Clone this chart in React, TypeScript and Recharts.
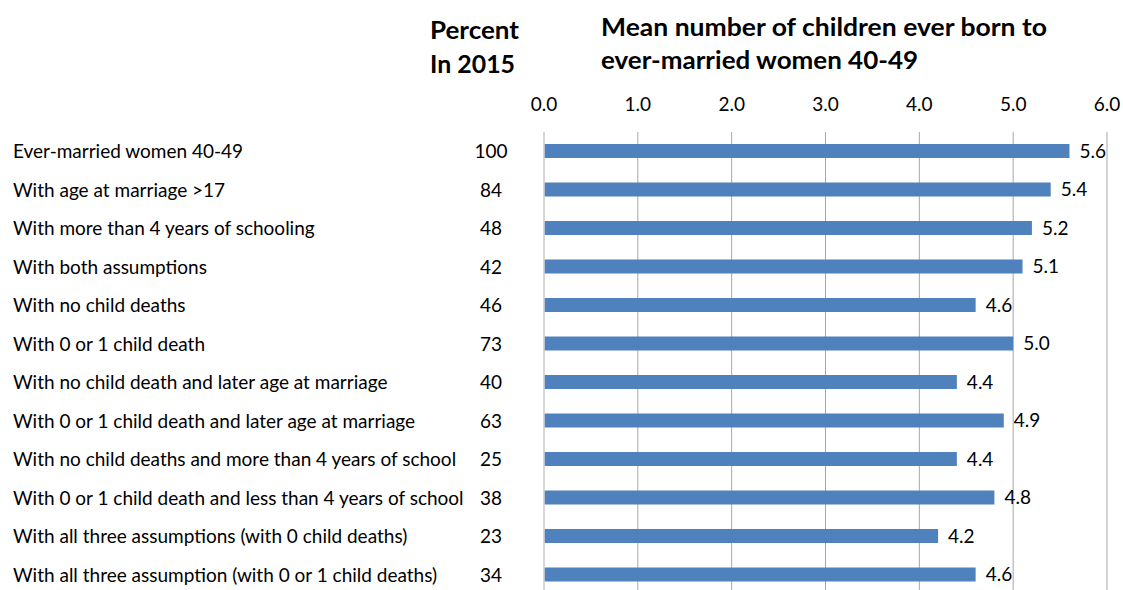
import { BarChart, Bar, XAxis, YAxis, CartesianGrid, LabelList, ReferenceLine } from 'recharts'

const categories = [
  'Ever-married women 40-49',
  'With age at marriage >17',
  'With more than 4 years of schooling',
  'With both assumptions',
  'With no child deaths',
  'With 0 or 1 child death',
  'With no child death and later age at marriage',
  'With 0 or 1 child death and later age at marriage',
  'With no child deaths and more than 4 years of school',
  'With 0 or 1 child death and less than 4 years of school',
  'With all three assumptions (with 0 child deaths)',
  'With all three assumption (with 0 or 1 child deaths)',
]
const percents = [100, 84, 48, 42, 46, 73, 40, 63, 25, 38, 23, 34]
const meanChildren = [5.6, 5.4, 5.2, 5.1, 4.6, 5.0, 4.4, 4.9, 4.4, 4.8, 4.2, 4.6]
const xTicks = [0, 1, 2, 3, 4, 5, 6]

const data = categories.map((name, i) => ({ name, percent: percents[i], mean: meanChildren[i] }))

const FONT = 'Lato, "Open Sans", sans-serif'
const SIZE = 19

function CategoryTick({ y, payload }: any) {
  const row = data.find((d) => d.name === payload.value)
  return (
    <g>
      <text x={13} y={y} dy={7} fontSize={SIZE} fill="#000" fontFamily={FONT}>
        {payload.value}
      </text>
      <text x={491} y={y} dy={7} fontSize={SIZE} fill="#000" fontFamily={FONT} textAnchor="middle">
        {row?.percent}
      </text>
    </g>
  )
}

function ValueTick({ x, payload }: any) {
  return (
    <text x={x} y={111} fontSize={SIZE} fill="#000" fontFamily={FONT} textAnchor="middle">
      {Number(payload.value).toFixed(1)}
    </text>
  )
}

export default function App() {
  return (
    <div style={{ position: 'relative', width: 1123, height: 590, background: '#fff' }}>
      <style>{'body{margin:0;overflow:hidden}'}</style>
      <svg
        width={1123}
        height={100}
        style={{ position: 'absolute', left: 0, top: 0 }}
        fontFamily={FONT}
        fontWeight="bold"
        fontSize={25}
      >
        <text x={430} y={39} textLength={89} lengthAdjust="spacingAndGlyphs">Percent</text>
        <text x={430} y={73} textLength={85} lengthAdjust="spacingAndGlyphs">In 2015</text>
        <text x={601} y={36} textLength={446} lengthAdjust="spacingAndGlyphs">
          Mean number of children ever born to
        </text>
        <text x={601} y={69} textLength={317} lengthAdjust="spacingAndGlyphs">
          ever-married women 40-49
        </text>
      </svg>
      <BarChart
        width={1123}
        height={594}
        data={data}
        layout="vertical"
        margin={{ top: 102, right: 16, bottom: 0, left: 0 }}
        style={{ position: 'absolute', left: 0, top: 0 }}
      >
        <CartesianGrid horizontal={false} stroke="#a6a6a6" />
        <XAxis
          type="number"
          orientation="top"
          domain={[0, 6]}
          ticks={xTicks}
          height={30}
          axisLine={false}
          tickLine={false}
          tick={<ValueTick />}
        />
        <YAxis
          type="category"
          dataKey="name"
          width={544}
          interval={0}
          axisLine={false}
          tickLine={false}
          tick={<CategoryTick />}
        />
        <ReferenceLine x={0} stroke="#d9d9d9" strokeWidth={1.5} />
        <Bar dataKey="mean" fill="#4f81bd" barSize={14} isAnimationActive={false}>
          <LabelList
            dataKey="mean"
            position="right"
            offset={10}
            fontSize={SIZE}
            fill="#000"
            fontFamily={FONT}
            formatter={(v: any) => Number(v).toFixed(1)}
          />
        </Bar>
      </BarChart>
    </div>
  )
}
